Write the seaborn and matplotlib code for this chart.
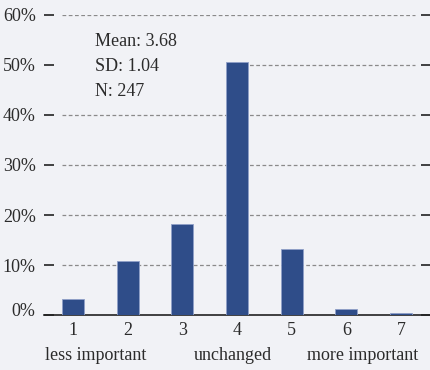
import matplotlib
matplotlib.use("Agg")
import matplotlib.pyplot as plt
import matplotlib.transforms as mtransforms
from matplotlib.patches import Rectangle
import seaborn as sns
import pandas as pd

categories = ["1", "2", "3", "4", "5", "6", "7"]
percent = [3.2, 10.8, 18.3, 50.6, 13.3, 1.3, 0.4]
y_ticks = [0, 10, 20, 30, 40, 50, 60]
y_labels = ["0%", "10%", "20%", "30%", "40%", "50%", "60%"]
stats_lines = ["Mean: 3.68", "SD: 1.04", "N: 247"]
scale_labels = ["less important", "unchanged", "more important"]

sns.set_theme(style="white")
plt.rcParams["font.family"] = ["Liberation Serif", "DejaVu Serif"]

bg = "#f1f2f6"
bar_color = "#2f4d89"
text_color = "#2b2b2b"
fs = 13

fig = plt.figure(figsize=(4.31, 3.70), dpi=100, facecolor=bg)
ax = fig.add_axes([44 / 431, 55 / 370, 387 / 431, 300 / 370])
ax.set_facecolor(bg)

df = pd.DataFrame({"cat": categories, "pct": percent})
sns.barplot(data=df, x="cat", y="pct", color=bar_color, width=0.4,
            edgecolor="#8fa0c8", linewidth=0.6, saturation=1, ax=ax, zorder=3)

# categorical positions: 0..6
ax.set_xlim(-0.53, 6.55)
ax.set_ylim(0, 60)

for yv in y_ticks[1:]:
    ax.hlines(yv, -0.2, 6.26, colors="#8a8a8a", linestyles=(0, (3, 2)),
              linewidth=0.9, zorder=1)

# background patch behind the statistics text (hides gridline there)
ax.add_patch(Rectangle((-0.22, 41.5), 3.05, 16.5, facecolor=bg,
                       edgecolor="none", zorder=2))

for s in ["top", "left", "right"]:
    ax.spines[s].set_visible(False)
ax.spines["bottom"].set_color("#222222")
ax.spines["bottom"].set_linewidth(1.2)

ax.set_yticks(y_ticks)
ax.set_yticklabels(y_labels)
ax.tick_params(axis="y", direction="in", length=7, width=1.2, color="#222222",
               left=True, right=True, labelleft=True, labelright=False,
               labelsize=fs, labelcolor=text_color, pad=6)
ax.tick_params(axis="x", length=0, labelsize=fs, labelcolor=text_color, pad=5)
ax.set_xlabel("")
ax.set_ylabel("")
zero_lbl = ax.get_yticklabels()[0]
zero_lbl.set_transform(zero_lbl.get_transform() +
                       mtransforms.ScaledTranslation(0, 6 / 100, fig.dpi_scale_trans))

for i, line in enumerate(stats_lines):
    ax.text(0.41, 54.6 - i * 5.0, line, fontsize=fs, color=text_color,
            ha="left", va="center", zorder=4)

trans = mtransforms.blended_transform_factory(ax.transData, fig.transFigure)
for xp, lab in zip([0.42, 2.93, 5.30], scale_labels):
    ax.text(xp, 15 / 370, lab, transform=trans, fontsize=fs,
            color=text_color, ha="center", va="center")

fig.savefig("out.png", dpi=100, facecolor=bg)
